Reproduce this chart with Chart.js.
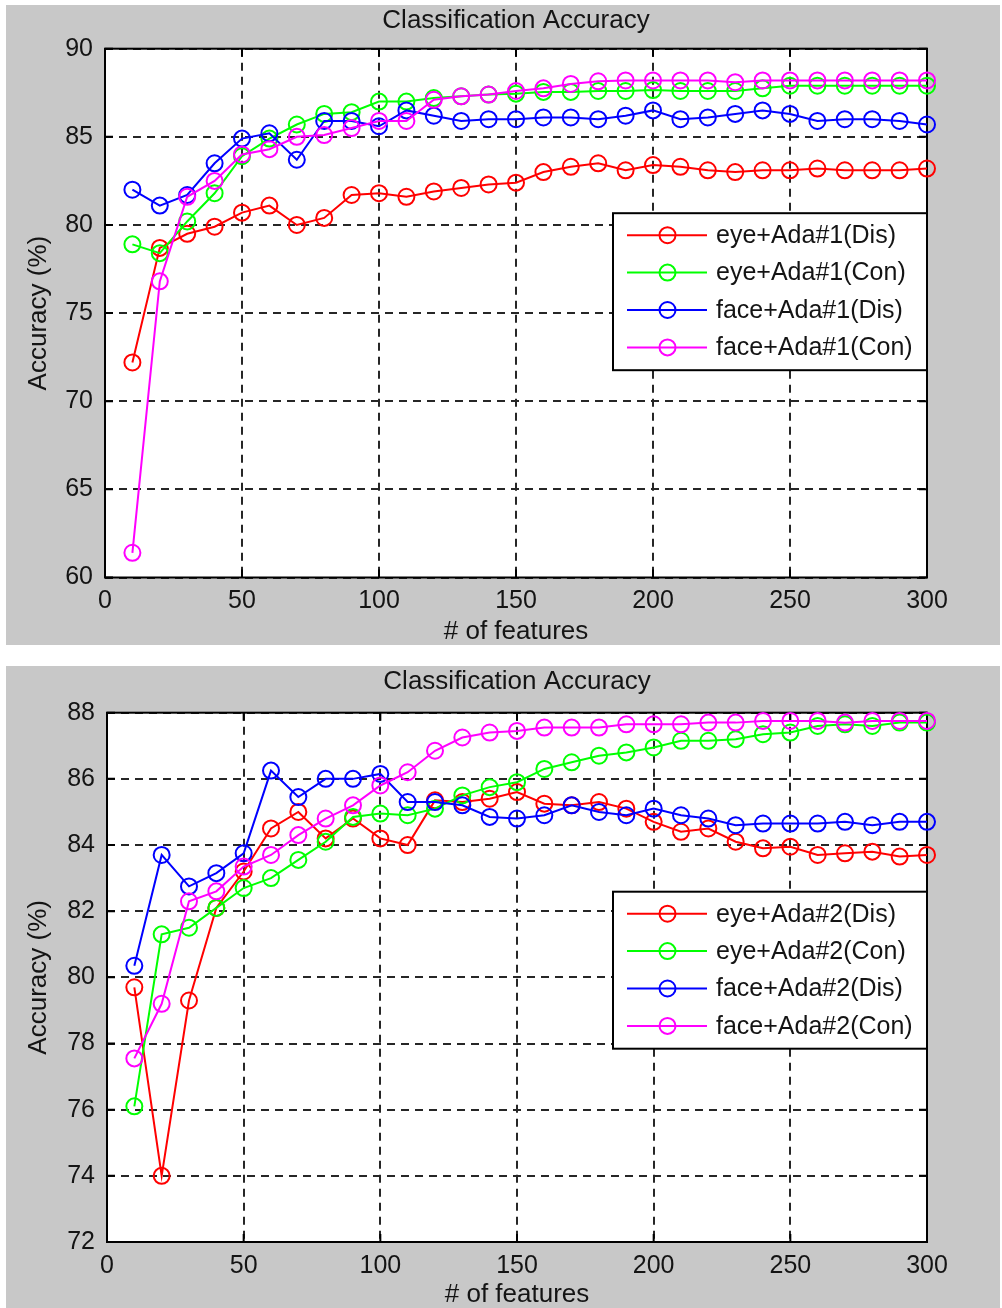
<!DOCTYPE html>
<html>
<head>
<meta charset="utf-8">
<title>Classification Accuracy</title>
<script src="https://cdn.jsdelivr.net/npm/chart.js@4.4.1/dist/chart.umd.min.js"></script>
<style>
  html, body { margin: 0; padding: 0; background: #ffffff; }
  body { width: 1002px; height: 1308px; position: relative; overflow: hidden; }
  .panel { position: absolute; }
</style>
</head>
<body>
<div class="panel" style="left:6px; top:5px; width:994px; height:640px;"><canvas id="c1" width="994" height="640"></canvas></div>
<div class="panel" style="left:6px; top:666px; width:994px; height:642px;"><canvas id="c2" width="994" height="642"></canvas></div>
<script>
// Number of selected features (x axis)
const features = [10, 20, 30, 40, 50, 60, 70, 80, 90, 100,
                  110, 120, 130, 140, 150, 160, 170, 180, 190, 200,
                  210, 220, 230, 240, 250, 260, 270, 280, 290, 300];

// Ada#1 accuracies (%)
const eyeDis1  = [72.2, 78.7, 79.5, 79.9, 80.7, 81.1, 80.0, 80.4, 81.7, 81.8,
                  81.6, 81.9, 82.1, 82.3, 82.4, 83.0, 83.3, 83.5, 83.1, 83.4,
                  83.3, 83.1, 83.0, 83.1, 83.1, 83.2, 83.1, 83.1, 83.1, 83.2];
const eyeCon1  = [78.9, 78.4, 80.2, 81.8, 83.9, 84.9, 85.7, 86.3, 86.4, 87.0,
                  87.0, 87.2, 87.3, 87.4, 87.45, 87.55, 87.55, 87.6, 87.6, 87.65,
                  87.6, 87.6, 87.6, 87.75, 87.9, 87.9, 87.9, 87.9, 87.9, 87.9];
const faceDis1 = [82.0, 81.1, 81.7, 83.5, 84.9, 85.2, 83.7, 85.9, 85.9, 85.6,
                  86.5, 86.2, 85.9, 86.0, 86.0, 86.1, 86.1, 86.0, 86.2, 86.5,
                  86.0, 86.1, 86.3, 86.5, 86.3, 85.9, 86.0, 86.0, 85.9, 85.7];
const faceCon1 = [61.4, 76.8, 81.6, 82.5, 84.0, 84.3, 85.0, 85.1, 85.5, 85.9,
                  85.9, 87.1, 87.3, 87.4, 87.6, 87.75, 88.0, 88.15, 88.2, 88.2,
                  88.2, 88.2, 88.1, 88.2, 88.2, 88.2, 88.2, 88.2, 88.2, 88.2];

// Ada#2 accuracies (%)
const eyeDis2  = [79.7, 74.0, 79.3, 82.1, 83.2, 84.5, 85.0, 84.2, 84.8, 84.2,
                  84.0, 85.35, 85.3, 85.4, 85.6, 85.25, 85.2, 85.3, 85.1, 84.7,
                  84.4, 84.5, 84.1, 83.9, 83.95, 83.7, 83.75, 83.8, 83.65, 83.7];
const eyeCon2  = [76.1, 81.3, 81.5, 82.1, 82.7, 83.0, 83.55, 84.1, 84.85, 84.95,
                  84.9, 85.1, 85.5, 85.75, 85.9, 86.3, 86.5, 86.7, 86.8, 86.95,
                  87.15, 87.15, 87.2, 87.35, 87.4, 87.6, 87.65, 87.6, 87.7, 87.7];
const faceDis2 = [80.35, 83.7, 82.75, 83.15, 83.75, 86.25, 85.45, 86.0, 86.0, 86.15,
                  85.3, 85.3, 85.2, 84.85, 84.8, 84.9, 85.2, 85.0, 84.9, 85.1,
                  84.9, 84.8, 84.6, 84.65, 84.65, 84.65, 84.7, 84.6, 84.7, 84.7];
const faceCon2 = [77.55, 79.2, 82.3, 82.6, 83.35, 83.7, 84.3, 84.8, 85.2, 85.8,
                  86.2, 86.85, 87.25, 87.4, 87.45, 87.55, 87.55, 87.55, 87.65, 87.65,
                  87.65, 87.7, 87.7, 87.75, 87.75, 87.75, 87.7, 87.75, 87.75, 87.75];

// Series names
const labels1 = ['eye+Ada#1(Dis)', 'eye+Ada#1(Con)', 'face+Ada#1(Dis)', 'face+Ada#1(Con)'];
const labels2 = ['eye+Ada#2(Dis)', 'eye+Ada#2(Con)', 'face+Ada#2(Dis)', 'face+Ada#2(Con)'];

// Axis ranges
const xRange = [0, 300, 50];
const yRange1 = [60, 90, 5];
const yRange2 = [72, 88, 2];

const colors = ['#ff0000', '#00ff00', '#0000ff', '#ff00ff'];
const FONT = "'Liberation Sans', Arial, Helvetica, sans-serif";
const TEXT = '#141414';

Chart.defaults.font.family = FONT;
Chart.defaults.color = TEXT;

// Figure/axes background, box frame with inward ticks, and an in-axes legend
const matlabStyle = {
  id: 'matlabStyle',
  beforeDraw(chart, args, opts) {
    const { ctx, width, height, chartArea: a } = chart;
    ctx.save();
    ctx.fillStyle = opts.figureColor;
    ctx.fillRect(0, 0, width, height);
    ctx.fillStyle = '#ffffff';
    ctx.fillRect(a.left, a.top, a.right - a.left, a.bottom - a.top);
    ctx.restore();
  },
  beforeDatasetsDraw(chart, args, opts) {
    const { ctx, chartArea: a, scales: { x, y } } = chart;
    const tl = 8;
    ctx.save();
    ctx.strokeStyle = '#000000';
    ctx.lineWidth = 2;
    ctx.beginPath();
    x.ticks.forEach(t => {
      const px = x.getPixelForValue(t.value);
      ctx.moveTo(px, a.bottom); ctx.lineTo(px, a.bottom - tl);
      ctx.moveTo(px, a.top); ctx.lineTo(px, a.top + tl);
    });
    y.ticks.forEach(t => {
      const py = y.getPixelForValue(t.value);
      ctx.moveTo(a.left, py); ctx.lineTo(a.left + tl, py);
      ctx.moveTo(a.right, py); ctx.lineTo(a.right - tl, py);
    });
    ctx.stroke();
    ctx.strokeRect(a.left, a.top, a.right - a.left, a.bottom - a.top);
    ctx.restore();
  },
  afterDatasetsDraw(chart, args, opts) {
    const { ctx, chartArea: a } = chart;
    const w = 314, h = 157;
    const bx = a.right - w, by = a.top + opts.legendTop;
    ctx.save();
    ctx.fillStyle = '#ffffff';
    ctx.fillRect(bx, by, w, h);
    ctx.strokeStyle = '#000000';
    ctx.lineWidth = 2;
    ctx.strokeRect(bx, by, w, h);
    ctx.font = '25px ' + FONT;
    ctx.textBaseline = 'middle';
    ctx.textAlign = 'left';
    chart.data.datasets.forEach((ds, i) => {
      const cy = by + 22 + i * 37.4;
      ctx.strokeStyle = ds.borderColor;
      ctx.lineWidth = 2;
      ctx.beginPath();
      ctx.moveTo(bx + 14, cy); ctx.lineTo(bx + 94, cy);
      ctx.stroke();
      ctx.beginPath();
      ctx.arc(bx + 54.5, cy, 8, 0, Math.PI * 2);
      ctx.stroke();
      ctx.fillStyle = TEXT;
      ctx.fillText(ds.label, bx + 103, cy + 1);
    });
    ctx.restore();
  }
};

function makeDatasets(names, series) {
  return series.map((vals, i) => ({
    label: names[i],
    data: features.map((f, k) => ({ x: f, y: vals[k] })),
    borderColor: colors[i],
    borderWidth: 2,
    pointStyle: 'circle',
    pointRadius: 8,
    pointBorderWidth: 2,
    pointBorderColor: colors[i],
    pointBackgroundColor: 'rgba(0,0,0,0)',
    tension: 0,
    clip: false,
    order: 4 - i
  }));
}

function makeChart(id, names, series, yr, cfg) {
  return new Chart(document.getElementById(id), {
    type: 'line',
    data: { datasets: makeDatasets(names, series) },
    plugins: [matlabStyle],
    options: {
      responsive: false,
      animation: false,
      events: [],
      layout: { padding: { left: 13, right: 73, top: 0, bottom: 0 } },
      plugins: {
        legend: { display: false },
        tooltip: { enabled: false },
        title: {
          display: true,
          text: 'Classification Accuracy',
          fullSize: false,
          color: TEXT,
          font: { size: 26, weight: 'normal', lineHeight: 1.2 },
          padding: { top: 0, bottom: cfg.titleGap }
        },
        matlabStyle: { figureColor: '#c8c8c8', legendTop: cfg.legendTop }
      },
      scales: {
        x: {
          type: 'linear',
          min: xRange[0], max: xRange[1],
          ticks: { stepSize: xRange[2], padding: 9, color: TEXT, font: { size: 25 }, maxRotation: 0 },
          grid: { color: '#262626', lineWidth: 2, drawTicks: false },
          border: { display: false, dash: [8, 6] },
          title: { display: true, text: '# of features', color: TEXT, font: { size: 26, lineHeight: 1 }, padding: { top: 0, bottom: 0 } },
          afterFit(s) { s.height = cfg.xHeight; }
        },
        y: {
          type: 'linear',
          min: yr[0], max: yr[1],
          ticks: { stepSize: yr[2], padding: 12, color: TEXT, font: { size: 25 } },
          grid: { color: '#262626', lineWidth: 2, drawTicks: false },
          border: { display: false, dash: [8, 6] },
          title: { display: true, text: 'Accuracy (%)', color: TEXT, font: { size: 26, lineHeight: 1.2 }, padding: { top: 4, bottom: 0 } },
          afterFit(s) { s.width = cfg.yWidth; }
        }
      }
    }
  });
}

makeChart('c1', labels1, [eyeDis1, eyeCon1, faceDis1, faceCon1], yRange1,
  { titleGap: 12.5, xHeight: 67.5, yWidth: 86, legendTop: 164.5 });
makeChart('c2', labels2, [eyeDis2, eyeCon2, faceDis2, faceCon2], yRange2,
  { titleGap: 15.5, xHeight: 66, yWidth: 88, legendTop: 179 });
</script>
</body>
</html>
